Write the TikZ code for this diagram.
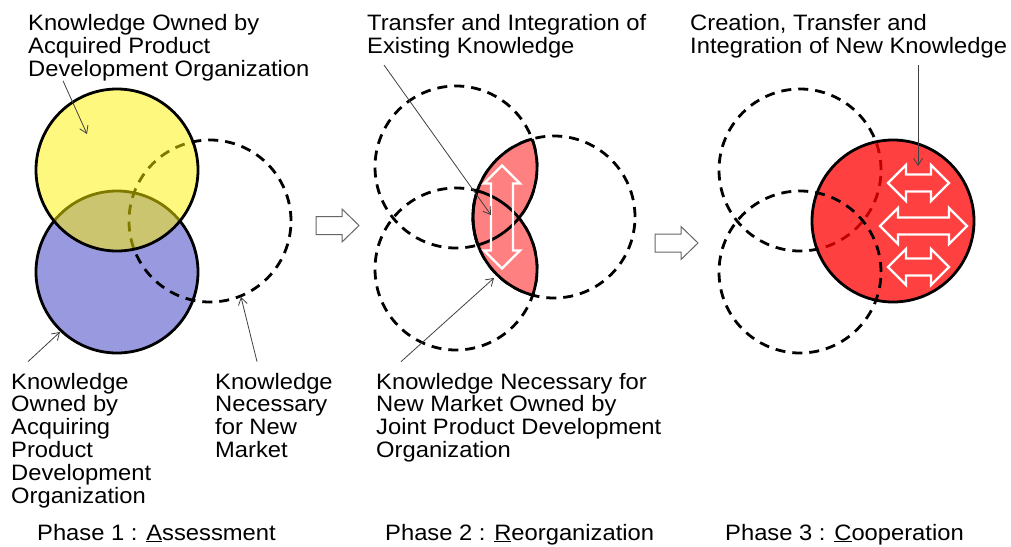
\documentclass[tikz,border=0pt]{standalone}
\usepackage{fontspec}
\setmainfont{Liberation Sans}[FakeStretch=1.065]
\usetikzlibrary{arrows.meta}

\definecolor{bluefill}{RGB}{153,153,224}

\tikzset{
  ring/.style={line width=2.8pt},
  dashring/.style={line width=2.8pt, dash pattern=on 10pt off 7pt},
  note/.style={anchor=base west, align=left, inner sep=0pt},
  pointer/.style={->, >={Straight Barb[length=7pt,width=9pt]}, draw=black!75, line width=0.8pt},
  hollow/.style={draw=black!60, line width=1pt, fill=white},
}

\begin{document}
\begin{tikzpicture}[x=1pt, y=-1pt, every circle/.style={radius=81pt},
    font=\fontsize{22.3}{22.8}\selectfont]
\useasboundingbox (0,0) rectangle (1011,546);

% circle centres
\coordinate (yel) at (117,170);
\coordinate (blu) at (117,272);
\coordinate (need) at (210,221);
\coordinate (oldA) at (456,167);
\coordinate (oldB) at (456,269);
\coordinate (mkt) at (554,217);
\coordinate (newA) at (800,170);
\coordinate (newB) at (800,272);
\coordinate (joint) at (893,221);

% phase 1
\draw[ring, fill=bluefill] (blu) circle;
\draw[dashring] (need) circle;
\draw[ring, fill=yellow, fill opacity=0.5] (yel) circle;

% phase 2
\foreach \c in {oldA,oldB,mkt}
  \draw[dashring] (\c) circle;
\begin{scope}
  \clip (mkt) circle;
  \fill[red!50] (oldA) circle [radius=81pt] (oldB) circle [radius=81pt];
  \draw[ring] (oldA) circle [radius=81pt] (oldB) circle [radius=81pt];
\end{scope}
\foreach \c in {oldA,oldB}{
  \begin{scope}
    \clip (\c) circle;
    \draw[ring] (mkt) circle;
  \end{scope}
}

% phase 3
\draw[dashring] (newA) circle;
\fill[red, fill opacity=0.75] (joint) circle;
\draw[dashring] (newB) circle;
\draw[ring] (joint) circle;

% white double arrows
\foreach \cx/\cy/\len/\rot/\sw in {502/217/51.5/90/11, 918.5/183/30.5/0/8.5,
    923.5/226/43.5/0/8.5, 918.5/267/30.5/0/8.5}
  \draw[white, line width=2.2pt, shift={(\cx,\cy)}, rotate=\rot]
    (-\len,0) -- (-\len+18,-18) -- (-\len+18,-\sw) -- (\len-18,-\sw)
    -- (\len-18,-18) -- (\len,0) -- (\len-18,18) -- (\len-18,\sw)
    -- (-\len+18,\sw) -- (-\len+18,18) -- cycle;

% hollow arrows between the phases
\foreach \bx/\by in {316/225.5, 655/243}
  \draw[hollow] (\bx,\by-9) -- (\bx+26,\by-9) -- (\bx+26,\by-16.5) -- (\bx+43,\by)
    -- (\bx+26,\by+16.5) -- (\bx+26,\by+9) -- (\bx,\by+9) -- cycle;

% labels (placed by the baseline of their last line)
\node[note] (ownA) at (28,76) {Knowledge Owned by\\Acquired Product\\Development Organization};
\node[note] (ownB) at (11,503) {Knowledge\\Owned by\\Acquiring\\Product\\Development\\Organization};
\node[note] (needlab) at (215,457.4) {Knowledge\\Necessary\\for New\\Market};
\node[note] (exist) at (367,53.2) {Transfer and Integration of\\Existing Knowledge};
\node[note] (jointlab) at (376,457.4) {Knowledge Necessary for\\New Market Owned by\\Joint Product Development\\Organization};
\node[note] (create) at (690,53.2) {Creation, Transfer and\\Integration of New Knowledge};

\node[note] (ph1) at (37,540) {Phase 1 : \underline{A}ssessment};
\node[note] (ph2) at (385,540) {Phase 2 : \underline{R}eorganization};
\node[note] (ph3) at (725,540) {Phase 3 : \underline{C}ooperation};

% pointers
\coordinate (tipYel) at (87,134);
\coordinate (tipBlu) at (60,332);
\coordinate (tipNeed) at (241,297);
\coordinate (tipOld) at (491,215);
\coordinate (tipMkt) at (494,278);
\coordinate (tipNew) at (918,166);

\draw[pointer] ([xshift=35pt]ownA.south west) -- (tipYel);
\draw[pointer] ([xshift=17pt,yshift=11pt]ownB.north west) -- (tipBlu);
\draw[pointer] ([xshift=42pt,yshift=11pt]needlab.north west) -- (tipNeed);
\draw[pointer] ([xshift=17pt,yshift=-7pt]exist.south west) -- (tipOld);
\draw[pointer] ([xshift=25pt,yshift=11pt]jointlab.north west) -- (tipMkt);
\draw[pointer] ([xshift=228pt,yshift=-7pt]create.south west) -- (tipNew);

\end{tikzpicture}
\end{document}
